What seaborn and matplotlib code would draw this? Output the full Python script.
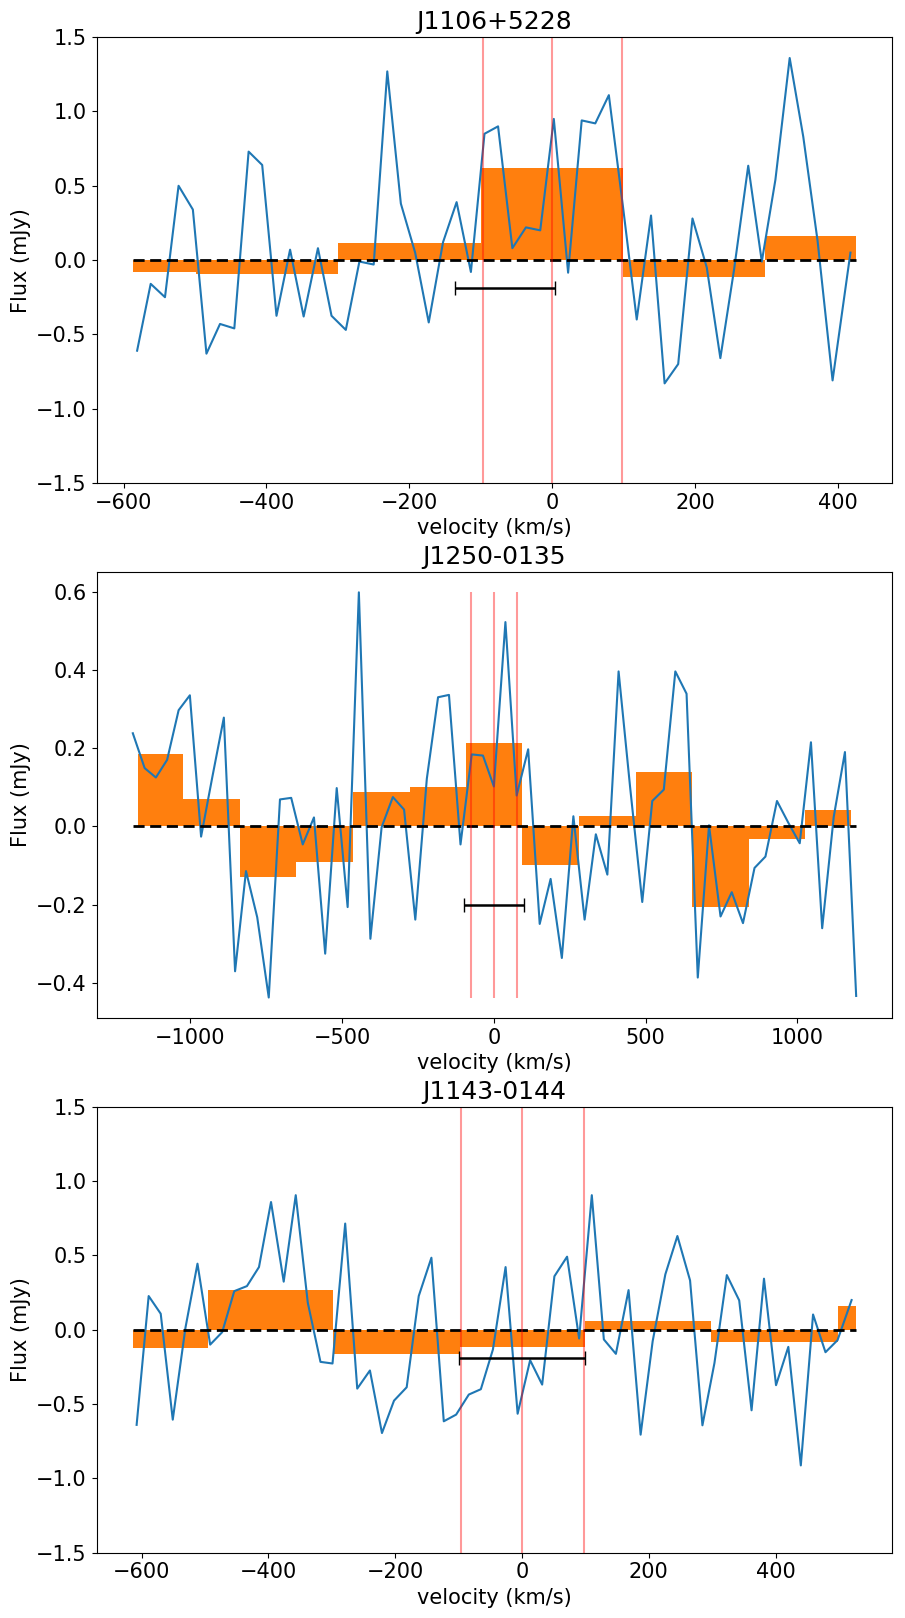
### Import libraries
import numpy as np
import matplotlib
matplotlib.use("Agg")
import matplotlib.pyplot as plt
import seaborn as sns

### data
names = ["J1106+5228", "J1250-0135", "J1143-0144"]

# J1106+5228
vel_1 = [-581, -562, -542, -523, -503, -484, -465, -445, -425, -406, -386, -367,
         -348, -328, -309, -289, -270, -250, -231, -212, -192, -173, -153, -134,
         -114, -95, -76, -56, -37, -17, 2, 22, 41, 60, 79, 99, 118, 138, 157, 176,
         196, 216, 235, 254, 274, 293, 312, 332, 351, 371, 392, 417]
flux_1 = [-0.61, -0.16, -0.25, 0.50, 0.34, -0.63, -0.43, -0.46, 0.73, 0.64, -0.375,
          0.07, -0.38, 0.08, -0.375, -0.47, -0.01, -0.03, 1.27, 0.38, 0.05, -0.42,
          0.12, 0.39, -0.08, 0.85, 0.90, 0.08, 0.22, 0.20, 0.95, -0.085, 0.94, 0.92,
          1.11, 0.35, -0.40, 0.30, -0.83, -0.70, 0.28, -0.05, -0.66, -0.07, 0.635,
          -0.01, 0.54, 1.36, 0.83, 0.13, -0.81, 0.05]
edges_1 = [-587, -499, -300, -100, 99, 298, 425]
binned_1 = [-0.077, -0.092, 0.116, 0.62, -0.117, 0.163]
lines_1 = [-97, 0, 97]
res_1 = (-66, 70, -0.19)      # centre, half width, flux level

# J1250-0135
vel_2 = [-1190, -1151, -1114, -1077, -1039, -1002, -965, -928, -890, -853, -817,
         -780, -742, -705, -668, -630, -593, -556, -518, -482, -445, -407, -370,
         -333, -296, -259, -221, -184, -148, -110, -73, -36, 0, 38, 75, 113, 151,
         187, 224, 262, 299, 336, 374, 411, 449, 489, 522, 560, 598, 635, 672, 709,
         747, 784, 821, 859, 895, 933, 970, 1008, 1045, 1082, 1120, 1157, 1194]
flux_2 = [0.238, 0.149, 0.125, 0.170, 0.297, 0.335, -0.026, 0.126, 0.278, -0.370,
          -0.114, -0.232, -0.437, 0.069, 0.073, -0.046, 0.023, -0.325, 0.098, -0.206,
          0.598, -0.287, -0.002, 0.075, 0.043, -0.238, 0.122, 0.330, 0.336, -0.046,
          0.184, 0.181, 0.102, 0.522, 0.079, 0.197, -0.249, -0.134, -0.336, 0.026,
          -0.238, -0.020, -0.123, 0.396, 0.10, -0.193, 0.065, 0.094, 0.396, 0.339,
          -0.386, 0.003, -0.230, -0.168, -0.247, -0.106, -0.077, 0.065, 0.01, -0.043,
          0.215, -0.260, 0.024, 0.190, -0.433]
edges_2 = [-1172, -1024, -838, -652, -465, -278, -92, 94, 280, 468, 654, 840, 1025, 1177]
binned_2 = [0.184, 0.069, -0.129, -0.091, 0.087, 0.102, 0.212, -0.099, 0.026, 0.140,
            -0.206, -0.032, 0.043]
lines_2 = [-75, 0, 75]
res_2 = (0, 100, -0.2)

# J1143-0144
vel_3 = [-608, -589, -570, -551, -531, -512, -492, -473, -454, -434, -415, -396,
         -376, -357, -338, -318, -299, -279, -260, -240, -221, -202, -182, -163,
         -143, -123.5, -104, -84, -65, -46, -26, -7, 12.7, 31.7, 51, 71, 90, 110,
         129, 148, 168, 187, 206, 226, 245, 265, 284.5, 303.5, 323, 342.5, 362,
         381.6, 400.6, 420, 439.7, 459, 478.6, 497.6, 519.8]
flux_3 = [-0.64, 0.227, 0.108, -0.605, 0.013, 0.445, -0.10, -0.016, 0.26, 0.294,
          0.422, 0.86, 0.324, 0.906, 0.182, -0.216, -0.227, 0.715, -0.396, -0.274,
          -0.695, -0.477, -0.387, 0.227, 0.485, -0.616, -0.571, -0.436, -0.40, -0.133,
          0.422, -0.565, -0.205, -0.369, 0.36, 0.492, -0.059, 0.906, -0.065, -0.162,
          0.267, -0.706, -0.077, 0.373, 0.631, 0.332, -0.643, -0.223, 0.368, 0.198,
          -0.542, 0.344, -0.373, -0.115, -0.913, 0.103, -0.151, -0.07, 0.20]
edges_3 = [-614, -496, -298, -98, 100, 298, 498, 527]
binned_3 = [-0.126, 0.265, -0.164, -0.117, 0.056, -0.083, 0.157]
lines_3 = [-97, 0, 97]
res_3 = (0, 99, -0.19)

# fixed y range (None -> autoscale)
yranges = [(-1.5, 1.5), None, (-1.5, 1.5)]


def plot_spectrum(ax, name, vel, flux, edges, binned, lines, res, yrange):
    vel = np.array(vel)
    flux = np.array(flux)
    edges = np.array(edges)

    # binned spectrum
    ax.bar(edges[:-1], binned, width=np.diff(edges), align='edge', color='C1')
    # channel spectrum
    sns.lineplot(x=vel, y=flux, ax=ax, color='C0', linewidth=1.5)
    # zero level
    ax.hlines(0, min(vel.min(), edges[0]), max(vel.max(), edges[-1]),
              colors='k', linestyles=(0, (4, 2)), linewidth=2)
    # line window
    if yrange is None:
        ax.vlines(lines, flux.min(), flux.max(), colors='red', alpha=0.4,
                  linewidth=1.5)
    else:
        for x in lines:
            ax.axvline(x, color='red', alpha=0.4, linewidth=1.5)
        ax.set_ylim(yrange)
    # resolution
    ax.errorbar(res[0], res[2], xerr=res[1], color='k', capsize=5,
                linewidth=1.8)

    ax.set_title(name, fontsize=18)
    ax.set_xlabel("velocity (km/s)", fontsize=15)
    ax.set_ylabel("Flux (mJy)", fontsize=15)
    ax.tick_params(labelsize=15)


fig, axes = plt.subplots(3, 1, figsize=(9.05, 16.18), dpi=100)
fig.subplots_adjust(left=0.1068, right=0.986, top=0.977, bottom=0.0404,
                    hspace=0.2)

data = [(vel_1, flux_1, edges_1, binned_1, lines_1, res_1),
        (vel_2, flux_2, edges_2, binned_2, lines_2, res_2),
        (vel_3, flux_3, edges_3, binned_3, lines_3, res_3)]

for ax, name, d, yr in zip(axes, names, data, yranges):
    plot_spectrum(ax, name, *d, yr)

plt.savefig("out.png", dpi=100)
plt.close()
